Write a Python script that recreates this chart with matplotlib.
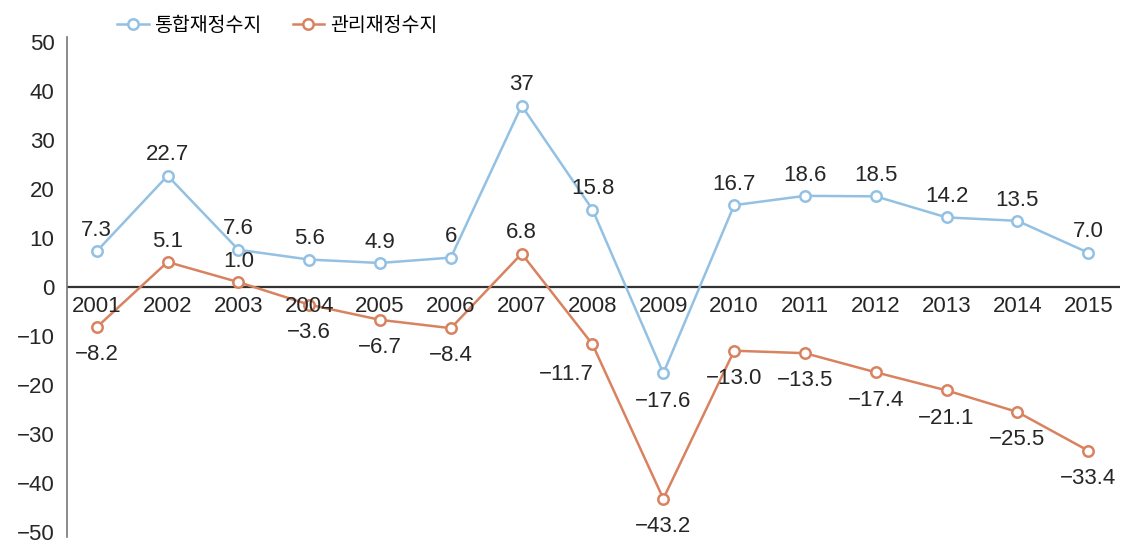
import matplotlib
matplotlib.use("Agg")
import matplotlib.pyplot as plt

years = list(range(2001, 2016))
integrated_balance = [7.3, 22.7, 7.6, 5.6, 4.9, 6, 37, 15.8, -17.6, 16.7, 18.6, 18.5, 14.2, 13.5, 7.0]
managed_balance = [-8.2, 5.1, 1.0, -3.6, -6.7, -8.4, 6.8, -11.7, -43.2, -13.0, -13.5, -17.4, -21.1, -25.5, -33.4]
integrated_text = ["7.3", "22.7", "7.6", "5.6", "4.9", "6", "37", "15.8", "\u221217.6", "16.7",
                   "18.6", "18.5", "14.2", "13.5", "7.0"]
managed_text = ["\u22128.2", "5.1", "1.0", "\u22123.6", "\u22126.7", "\u22128.4", "6.8", "\u221211.7",
                "\u221243.2", "\u221213.0", "\u221213.5", "\u221217.4", "\u221221.1", "\u221225.5", "\u221233.4"]
series_names = ["통합재정수지", "관리재정수지"]

BLUE = "#93c1e3"
ORANGE = "#d9825f"
TEXT = "#262626"

plt.rcParams["font.family"] = ["Liberation Sans", "Noto Sans CJK KR", "DejaVu Sans"]

fig = plt.figure(figsize=(11.36, 5.53), dpi=100)
ax = fig.add_axes([0.059, 0.029, 0.927, 0.904])

ax.plot(years, integrated_balance, color=BLUE, lw=1.8, marker="o", ms=7.5,
        mfc="white", mec=BLUE, mew=1.8, label=series_names[0], zorder=3)
ax.plot(years, managed_balance, color=ORANGE, lw=1.8, marker="o", ms=7.5,
        mfc="white", mec=ORANGE, mew=1.8, label=series_names[1], zorder=3)

ax.axhline(0, color="#333333", lw=1.6, zorder=2)

# value labels: above the point when positive, below when negative
for x, v, t in zip(years, integrated_balance, integrated_text):
    dy = -20 if v < 0 else 15
    ax.annotate(t, (x, v), xytext=(0, dy), textcoords="offset points",
                ha="center", va="center", fontsize=16, color=TEXT)
for x, v, t in zip(years, managed_balance, managed_text):
    dy = 15 if v > 0 else -20
    dx = -19 if x == 2008 else 0
    if x == 2008:
        dy = -22
    ax.annotate(t, (x, v), xytext=(dx, dy), textcoords="offset points",
                ha="center", va="center", fontsize=16, color=TEXT)

# year labels sit right under the zero line
for x in years:
    ax.text(x, -1.8, str(x), ha="center", va="top", fontsize=16, color=TEXT)

ax.set_xlim(2000.58, 2015.45)
ax.set_ylim(-51, 51)
ax.set_yticks(range(-50, 51, 10))
ax.set_yticklabels([str(v).replace("-", "\u2212") for v in range(-50, 51, 10)])
ax.tick_params(axis="y", length=0, labelsize=16, pad=9, colors=TEXT)
ax.set_xticks([])
for side in ["top", "right", "bottom"]:
    ax.spines[side].set_visible(False)
ax.spines["left"].set_color("#777777")
ax.spines["left"].set_linewidth(1.2)

fig.legend(loc="upper left", bbox_to_anchor=(0.088, 1.005), ncol=2, frameon=False,
           prop={"family": ["Noto Sans CJK KR"], "size": 14},
           handlelength=1.6, columnspacing=1.6, handletextpad=0.3)

fig.savefig("out.png", dpi=100)
